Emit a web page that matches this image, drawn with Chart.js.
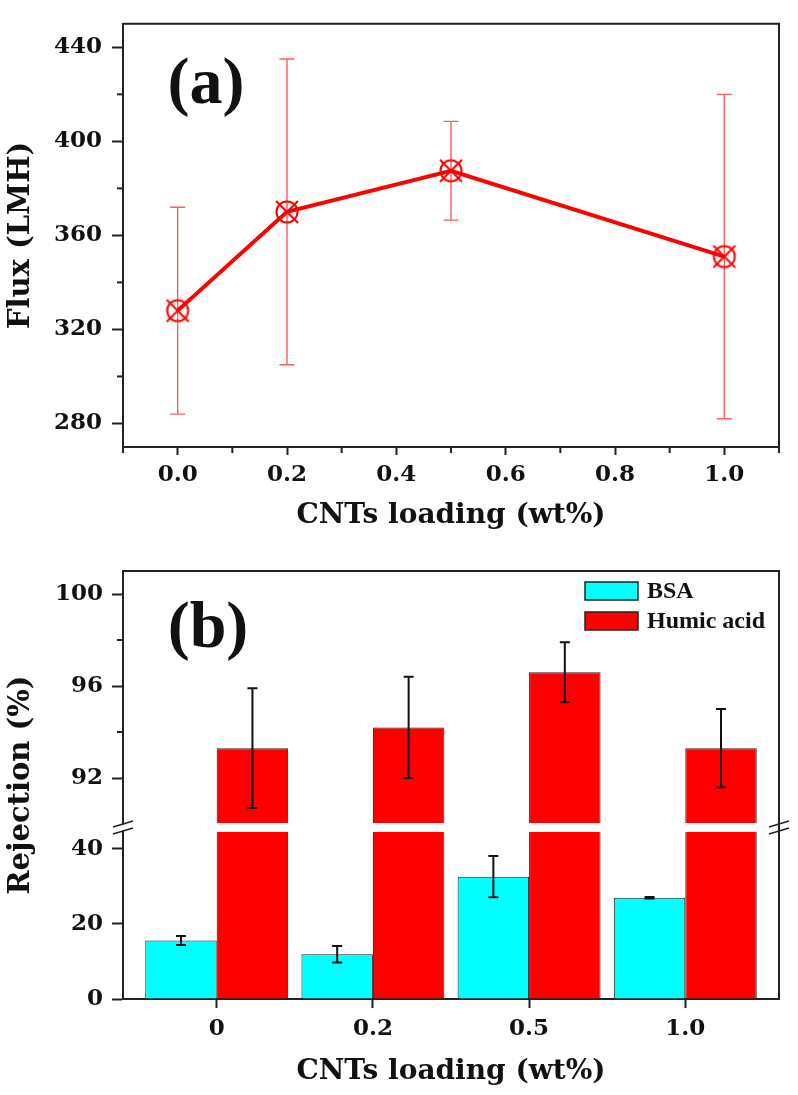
<!DOCTYPE html>
<html>
<head>
<meta charset="utf-8">
<script src="https://cdn.jsdelivr.net/npm/chart.js@4.4.1/dist/chart.umd.min.js"></script>
<style>
  body { margin: 0; background: #fff; }
  #wrap { position: relative; width: 798px; height: 1095px; }
  #wrap canvas { position: absolute; left: 0; }
</style>
</head>
<body>
<div id="wrap">
  <canvas id="fluxChart" width="798" height="548" style="top:0"></canvas>
  <canvas id="rejChart" width="798" height="547" style="top:548px"></canvas>
</div>
<script>
// (a) flux vs CNTs loading
var loading = [0.0, 0.2, 0.5, 1.0];
var flux = [328, 370, 387.5, 351];
var fluxErr = [44, 65, 21, 69];
var fluxTicks = [280, 320, 360, 400, 440];
var fluxMinor = [300, 340, 380, 420];
var loadingTicks = [0, 0.2, 0.4, 0.6, 0.8, 1.0];
var loadingMinor = [-0.1, 0.1, 0.3, 0.5, 0.7, 0.9, 1.1];

// (b) rejection, broken y axis
var cats = ['0', '0.2', '0.5', '1.0'];
var bsa = [15.6, 11.9, 32.6, 27.0];
var bsaErr = [1.2, 2.2, 5.5, 0.2];
var humic = [93.3, 94.2, 96.6, 93.3];
var humicErr = [2.6, 2.2, 1.3, 1.7];
var rejTopTicks = [92, 96, 100];
var rejTopMinor = [94, 98];
var rejBotTicks = [0, 20, 40];

var INK = '#222';
Chart.defaults.font.family = "'DejaVu Serif', serif";
Chart.defaults.font.weight = 'bold';
Chart.defaults.color = '#111';

function setTicks(list) {
    return function (scale) {
        scale.ticks = list.map(function (v) { return { value: v }; });
    };
}

function axisGrid(len) {
    return { drawOnChartArea: false, tickLength: len, tickWidth: 2, color: INK, offset: false };
}

function minorTicks(list) {
    return {
        id: 'minorTicks',
        afterDraw: function (chart) {
            var ctx = chart.ctx;
            ctx.save();
            ctx.strokeStyle = INK;
            ctx.lineWidth = 2;
            list.forEach(function (m) {
                var sc = chart.scales[m.axis];
                m.values.forEach(function (v) {
                    var p = sc.getPixelForValue(v);
                    ctx.beginPath();
                    if (sc.isHorizontal()) {
                        ctx.moveTo(p, sc.top); ctx.lineTo(p, sc.top + 6);
                    } else {
                        ctx.moveTo(sc.right - 6, p); ctx.lineTo(sc.right, p);
                    }
                    ctx.stroke();
                });
            });
            ctx.restore();
        }
    };
}

var frame = {
    id: 'frame',
    afterDraw: function (chart) {
        var a = chart.chartArea, ctx = chart.ctx;
        ctx.save();
        ctx.strokeStyle = INK;
        ctx.lineWidth = 2;
        ctx.beginPath();
        ctx.moveTo(a.left, a.top);
        ctx.lineTo(a.right, a.top);
        ctx.lineTo(a.right, a.bottom);
        ctx.stroke();
        ctx.restore();
    }
};

function panelLabel(text, dx, dy) {
    return {
        id: 'panelLabel',
        afterDraw: function (chart) {
            var ctx = chart.ctx;
            ctx.save();
            ctx.font = 'bold 66px "Liberation Serif", serif';
            ctx.fillStyle = '#111';
            ctx.textAlign = 'center';
            ctx.textBaseline = 'middle';
            ctx.fillText(text, chart.chartArea.left + dx, chart.chartArea.top + dy);
            ctx.restore();
        }
    };
}

// circle with a cross, like the Origin marker
var marker = document.createElement('canvas');
marker.width = 30; marker.height = 30;
(function () {
    var c = marker.getContext('2d');
    c.strokeStyle = '#ff0000';
    c.lineWidth = 2;
    c.beginPath(); c.arc(15, 15, 10.5, 0, Math.PI * 2); c.stroke();
    c.beginPath();
    c.moveTo(4, 4); c.lineTo(26, 26);
    c.moveTo(26, 4); c.lineTo(4, 26);
    c.stroke();
})();

var fluxErrorBars = {
    id: 'fluxErrorBars',
    beforeDatasetsDraw: function (chart) {
        var xs = chart.scales.x, ys = chart.scales.y, ctx = chart.ctx;
        ctx.save();
        ctx.strokeStyle = '#ff5c5c';
        ctx.lineWidth = 1.4;
        for (var i = 0; i < loading.length; i++) {
            var x = xs.getPixelForValue(loading[i]);
            var y1 = ys.getPixelForValue(flux[i] + fluxErr[i]);
            var y2 = ys.getPixelForValue(flux[i] - fluxErr[i]);
            ctx.beginPath();
            ctx.moveTo(x, y1); ctx.lineTo(x, y2);
            ctx.moveTo(x - 7.5, y1); ctx.lineTo(x + 7.5, y1);
            ctx.moveTo(x - 7.5, y2); ctx.lineTo(x + 7.5, y2);
            ctx.stroke();
        }
        ctx.restore();
    }
};

new Chart(document.getElementById('fluxChart'), {
    type: 'line',
    data: {
        datasets: [{
            label: 'Flux',
            data: loading.map(function (x, i) { return { x: x, y: flux[i] }; }),
            borderColor: '#ff0000',
            borderWidth: 4,
            pointStyle: marker,
            pointRadius: 11,
            tension: 0
        }]
    },
    options: {
        responsive: false,
        animation: false,
        layout: { padding: { top: 19, right: 19, left: 0, bottom: 0 } },
        plugins: { legend: { display: false }, tooltip: { enabled: false } },
        scales: {
            x: {
                type: 'linear', min: -0.1, max: 1.1,
                afterBuildTicks: setTicks(loadingTicks),
                afterFit: function (s) { s.height = 101; },
                ticks: { font: { size: 23 }, padding: 6, maxRotation: 0, autoSkip: false,
                         callback: function (v) { return v.toFixed(1); } },
                grid: axisGrid(8),
                border: { color: INK, width: 2 },
                title: { display: true, text: 'CNTs loading (wt%)', font: { size: 28 },
                         padding: { top: 0, bottom: 15 } }
            },
            y: {
                min: 270, max: 450,
                afterBuildTicks: setTicks(fluxTicks),
                afterFit: function (s) { s.width = 123; },
                ticks: { font: { size: 23 }, padding: 10 },
                grid: axisGrid(11),
                border: { color: INK, width: 2 },
                title: { display: true, text: 'Flux (LMH)', font: { size: 29 },
                         padding: { top: 4, bottom: 0 } }
            }
        }
    },
    plugins: [fluxErrorBars, frame, panelLabel('(a)', 83, 62),
              minorTicks([{ axis: 'x', values: loadingMinor }, { axis: 'y', values: fluxMinor }])]
});

// (b) -----------------------------------------------------------
var clipToScale = {
    id: 'clipToScale',
    beforeDatasetDraw: function (chart, args) {
        var ys = args.meta.yScale, a = chart.chartArea, ctx = chart.ctx;
        ctx.save();
        ctx.beginPath();
        ctx.rect(a.left, ys.top, a.right - a.left, ys.bottom - ys.top);
        ctx.clip();
    },
    afterDatasetDraw: function (chart) {
        chart.ctx.restore();
    }
};

function drawBreak(ctx, x, y) {
    ctx.save();
    ctx.fillStyle = '#fff';
    ctx.fillRect(x - 2, y - 3, 4, 6);
    ctx.strokeStyle = INK;
    ctx.lineWidth = 1.5;
    [-3.5, 3.5].forEach(function (d) {
        ctx.beginPath();
        ctx.moveTo(x - 10, y + d + 3);
        ctx.lineTo(x + 10, y + d - 3);
        ctx.stroke();
    });
    ctx.restore();
}

var rejExtras = {
    id: 'rejExtras',
    afterDatasetsDraw: function (chart) {
        var ctx = chart.ctx, a = chart.chartArea;
        var yb = chart.scales.yBot, yt = chart.scales.yTop;
        var cut = yt.bottom;
        // white gap through the bars at the axis break
        ctx.save();
        ctx.fillStyle = '#fff';
        ctx.fillRect(a.left + 1.5, cut - 4.5, a.right - a.left - 3, 9);
        // error bars
        ctx.strokeStyle = '#111';
        ctx.lineWidth = 2;
        function bar(x, ys, v, e) {
            var y1 = ys.getPixelForValue(v + e), y2 = ys.getPixelForValue(v - e);
            ctx.beginPath();
            ctx.moveTo(x, y1); ctx.lineTo(x, y2);
            ctx.moveTo(x - 5, y1); ctx.lineTo(x + 5, y1);
            ctx.moveTo(x - 5, y2); ctx.lineTo(x + 5, y2);
            ctx.stroke();
        }
        var mB = chart.getDatasetMeta(0), mH = chart.getDatasetMeta(2);
        for (var i = 0; i < cats.length; i++) {
            bar(mB.data[i].x, yb, bsa[i], bsaErr[i]);
            bar(mH.data[i].x, yt, humic[i], humicErr[i]);
        }
        ctx.restore();
    },
    afterDraw: function (chart) {
        var ctx = chart.ctx, a = chart.chartArea;
        var cut = chart.scales.yTop.bottom;
        drawBreak(ctx, a.left, cut);
        drawBreak(ctx, a.right, cut);
        // legend, top right inside the plot
        var rows = [chart.data.datasets[0], chart.data.datasets[2]];
        ctx.save();
        ctx.font = 'bold 24px "Liberation Serif", serif';
        ctx.textBaseline = 'middle';
        rows.forEach(function (ds, k) {
            var bx = a.right - 194, by = a.top + 11 + k * 30;
            ctx.fillStyle = ds.backgroundColor;
            ctx.fillRect(bx, by, 53, 18);
            ctx.strokeStyle = INK;
            ctx.lineWidth = 1.5;
            ctx.strokeRect(bx, by, 53, 18);
            ctx.fillStyle = '#111';
            ctx.fillText(ds.label, bx + 62, by + 10);
        });
        ctx.restore();
    }
};

function barData(vals) {
    return vals.map(function (v, i) { return { x: i, y: v }; });
}

new Chart(document.getElementById('rejChart'), {
    type: 'bar',
    data: {
        datasets: [
            { label: 'BSA', data: barData(bsa), yAxisID: 'yBot', stack: 'bsa',
              backgroundColor: '#00ffff', borderColor: INK, borderWidth: 1 },
            { label: 'Humic acid', data: barData(humic), yAxisID: 'yBot', stack: 'ha',
              backgroundColor: '#ff0000', borderColor: INK, borderWidth: 1 },
            { label: 'Humic acid', data: barData(humic), yAxisID: 'yTop', stack: 'ha',
              backgroundColor: '#ff0000', borderColor: INK, borderWidth: 1 }
        ]
    },
    options: {
        responsive: false,
        animation: false,
        datasets: { bar: { categoryPercentage: 0.915, barPercentage: 1.0 } },
        layout: { padding: { top: 23, right: 19, left: 0, bottom: 0 } },
        plugins: { legend: { display: false }, tooltip: { enabled: false } },
        scales: {
            x: {
                type: 'linear', min: -0.6, max: 3.6, offset: false,
                afterBuildTicks: setTicks(cats.map(function (c, i) { return i; })),
                afterFit: function (s) { s.height = 96; },
                ticks: { font: { size: 23 }, padding: 7, maxRotation: 0, autoSkip: false,
                         callback: function (v) { return cats[v]; } },
                grid: axisGrid(9),
                border: { color: INK, width: 2 },
                title: { display: true, text: 'CNTs loading (wt%)', font: { size: 28 },
                         padding: { top: 0, bottom: 6 } }
            },
            yBot: {
                type: 'linear', position: 'left', stack: 'rej', stackWeight: 171.5,
                min: 0, max: 45.7,
                afterBuildTicks: setTicks(rejBotTicks),
                afterFit: function (s) { s.width = 83; },
                ticks: { font: { size: 23 }, padding: 9 },
                grid: axisGrid(11),
                border: { color: INK, width: 2 }
            },
            yTop: {
                type: 'linear', position: 'left', stack: 'rej', stackWeight: 256.5,
                min: 89.85, max: 101,
                afterBuildTicks: setTicks(rejTopTicks),
                afterFit: function (s) { s.width = 83; },
                ticks: { font: { size: 23 }, padding: 9 },
                grid: axisGrid(11),
                border: { color: INK, width: 2 }
            },
            yTitle: {
                type: 'linear', position: 'left', min: 0, max: 1, display: true,
                afterFit: function (s) { s.width = 40; },
                ticks: { display: false },
                grid: { display: false },
                border: { display: false },
                title: { display: true, text: 'Rejection (%)', font: { size: 29 },
                         padding: { top: 4, bottom: 0 } }
            }
        }
    },
    plugins: [clipToScale, rejExtras, frame, panelLabel('(b)', 85, 59),
              minorTicks([{ axis: 'yTop', values: rejTopMinor }])]
});
</script>
</body>
</html>
